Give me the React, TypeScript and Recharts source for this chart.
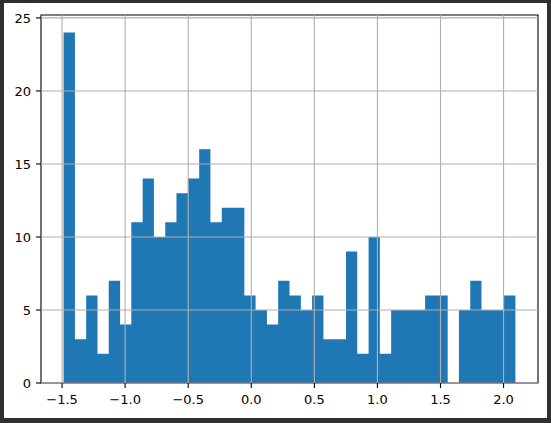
import {
  ComposedChart,
  Area,
  XAxis,
  YAxis,
  ReferenceLine,
  ReferenceArea,
} from 'recharts';

// left edges of the 40 bins, plus the right edge of the last one
const binEdges = [
  -1.488, -1.398, -1.309, -1.219, -1.13, -1.04, -0.951, -0.861, -0.772, -0.682,
  -0.593, -0.503, -0.413, -0.324, -0.234, -0.145, -0.055, 0.034, 0.124, 0.213,
  0.303, 0.393, 0.482, 0.572, 0.661, 0.751, 0.84, 0.93, 1.019, 1.109,
  1.199, 1.288, 1.378, 1.467, 1.557, 1.646, 1.736, 1.825, 1.915, 2.004, 2.094,
];

// count in each bin
const counts = [
  24, 3, 6, 2, 7, 4, 11, 14, 10, 11,
  13, 14, 16, 11, 12, 12, 6, 5, 4, 7,
  6, 5, 6, 3, 3, 9, 2, 10, 2, 5,
  5, 5, 6, 6, 0, 5, 7, 5, 5, 6,
];

const xTicks = [-1.5, -1.0, -0.5, 0.0, 0.5, 1.0, 1.5, 2.0];
const yTicks = [0, 5, 10, 15, 20, 25];

const xDomain: [number, number] = [-1.667, 2.273];
const yDomain: [number, number] = [0, 25.2];

const font = { fontFamily: 'DejaVu Sans', fontSize: 13, fill: '#000' };

export default function App() {
  // stepAfter area: each point holds the count of the bin that starts there
  const data = binEdges.map((edge, i) => ({
    edge,
    count: counts[Math.min(i, counts.length - 1)],
  }));

  return (
    <div style={{ position: 'absolute', left: 0, top: 0, width: 551, height: 423, background: '#2f2f2f' }}>
      <div style={{ position: 'absolute', left: 4, top: 3, width: 543, height: 415, background: '#fff' }}>
        <ComposedChart
          width={543}
          height={415}
          data={data}
          margin={{ top: 12, right: 9, bottom: 0, left: 0 }}
        >
          <XAxis
            dataKey="edge"
            type="number"
            domain={xDomain}
            ticks={xTicks}
            allowDataOverflow
            interval={0}
            height={35}
            axisLine={false}
            tickLine={{ stroke: '#000', strokeWidth: 1.1 }}
            tickSize={5}
            tickMargin={7}
            tick={font}
            tickFormatter={(v: number) => v.toFixed(1).replace('-', '\u2212')}
          />
          <YAxis
            type="number"
            domain={yDomain}
            ticks={yTicks}
            allowDataOverflow
            interval={0}
            width={37}
            axisLine={false}
            tickLine={{ stroke: '#000', strokeWidth: 1.1 }}
            tickSize={5}
            tickMargin={5}
            tick={font}
          />
          <Area
            type="stepAfter"
            dataKey="count"
            stroke="none"
            fill="#1f77b4"
            fillOpacity={1}
            isAnimationActive={false}
            dot={false}
            activeDot={false}
          />
          {xTicks.map((v) => (
            <ReferenceLine key={'x' + v} x={v} stroke="#b0b0b0" strokeWidth={1.1} />
          ))}
          {yTicks.map((v) => (
            <ReferenceLine key={'y' + v} y={v} stroke="#b0b0b0" strokeWidth={1.1} />
          ))}
          <ReferenceArea
            x1={xDomain[0]}
            x2={xDomain[1]}
            y1={yDomain[0]}
            y2={yDomain[1]}
            fill="none"
            fillOpacity={0}
            stroke="#000"
            strokeWidth={1.1}
          />
        </ComposedChart>
      </div>
    </div>
  );
}
